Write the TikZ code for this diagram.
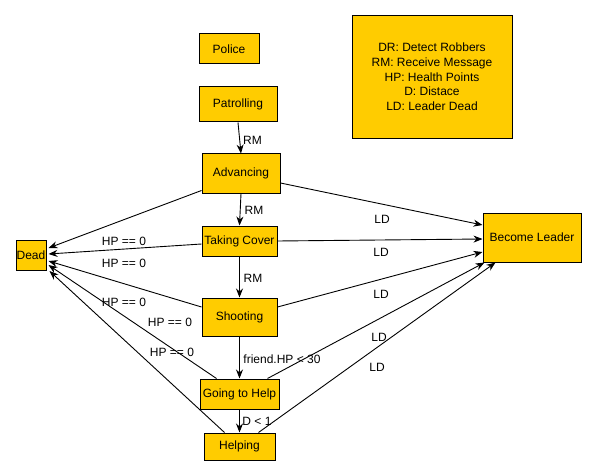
\documentclass[tikz,border=0pt]{standalone}
\usepackage{fontspec}
\setmainfont{Liberation Sans}
\usetikzlibrary{arrows.meta}
\definecolor{stategold}{RGB}{255,204,0}
\tikzset{
    state/.style={draw=black,fill=stategold,line width=1pt,inner sep=0pt,
        font=\fontsize{12}{14}\selectfont,align=center},
    lbl/.style={inner sep=0pt,font=\fontsize{12}{14}\selectfont},
    trans/.style={draw=black,line width=0.9pt,-{Stealth[length=9pt,width=7pt]}}
}
\begin{document}
\begin{tikzpicture}[x=1pt,y=-1pt]
            \useasboundingbox (0,0) rectangle (597,476);
            % states
            \node[state,minimum width=60pt,minimum height=30pt] (police) at (229,49) {Police};
            \node[state,minimum width=78pt,minimum height=35pt] (pat) at (238,104.5) {Patrolling};
            \node[state,minimum width=78pt,minimum height=39pt] (adv) at (241,173.5) {Advancing};
            \node[state,minimum width=75pt,minimum height=30pt] (tc) at (239.5,241) {Taking Cover};
            \node[state,minimum width=75pt,minimum height=38pt] (sh) at (239.5,317) {Shooting};
            \node[state,minimum width=79pt,minimum height=30pt] (gh) at (239.5,394) {Going to Help};
            \node[state,minimum width=71pt,minimum height=27pt] (hp) at (239.5,446.5) {Helping};
            \node[state,minimum width=30pt,minimum height=30pt] (dead) at (31,255) {Dead};
            \node[state,minimum width=98pt,minimum height=49pt] (bl) at (532,237.5) {Become Leader};
            \node[state,minimum width=160pt,minimum height=123pt,
                font=\fontsize{12}{14.7}\selectfont] (legend) at (432,77)
                {DR: Detect Robbers\\RM: Receive Message\\HP: Health Points\\D: Distace\\LD: Leader Dead};

            % main line
            \draw[trans] (pat.south) -- (adv.north);
            \draw[trans] (adv.south) -- (tc.north);
            \draw[trans] (tc.south) -- (sh.north);
            \draw[trans] (sh.south) -- (gh.north);
            \draw[trans] (gh.south) -- (hp.north);
            \node[lbl] (rm1) at (252.5,140) {RM};
            \node[lbl] (rm2) at (254,210) {RM};
            \node[lbl] (rm3) at (253,278) {RM};
            \node[lbl] (friend) at (282,359) {friend.HP < 30};
            \node[lbl] (dist) at (257,421) {D < 1};

            % to Dead
            \draw[trans] ([yshift=3pt]adv.south west) -- ([xshift=2pt,yshift=7pt]dead.east);
            \draw[trans] ([yshift=-3pt]tc.west) -- ([xshift=2pt,yshift=1pt]dead.east);
            \draw[trans] ([yshift=10pt]sh.west) -- ([xshift=2pt,yshift=-6pt]dead.east);
            \draw[trans] ([xshift=17pt]gh.north west) -- ([xshift=2pt,yshift=-10pt]dead.east);
            \draw[trans] ([xshift=21pt]hp.north west) -- ([xshift=3pt,yshift=-16pt]dead.east);
            \node[lbl] (hp1) at (124,241) {HP == 0};
            \node[lbl] (hp2) at (124,263) {HP == 0};
            \node[lbl] (hp3) at (124,302) {HP == 0};
            \node[lbl] (hp4) at (170,322) {HP == 0};
            \node[lbl] (hp5) at (172,352) {HP == 0};

            % to Become Leader
            \draw[trans] ([yshift=-9.5pt]adv.east) -- ([yshift=12.5pt]bl.west);
            \draw[trans] (tc.east) -- ([yshift=-1.5pt]bl.west);
            \draw[trans] ([yshift=10pt]sh.east) -- ([yshift=-14.5pt]bl.west);
            \draw[trans] ([xshift=-12pt]gh.north east) -- ([xshift=2pt]bl.south west);
            \draw[trans] ([xshift=-17pt]hp.north east) -- ([xshift=13pt]bl.south west);
            \node[lbl] (ld1) at (382,219) {LD};
            \node[lbl] (ld2) at (381,252) {LD};
            \node[lbl] (ld3) at (381,294) {LD};
            \node[lbl] (ld4) at (379,337) {LD};
            \node[lbl] (ld5) at (377,367) {LD};
\end{tikzpicture}
\end{document}
